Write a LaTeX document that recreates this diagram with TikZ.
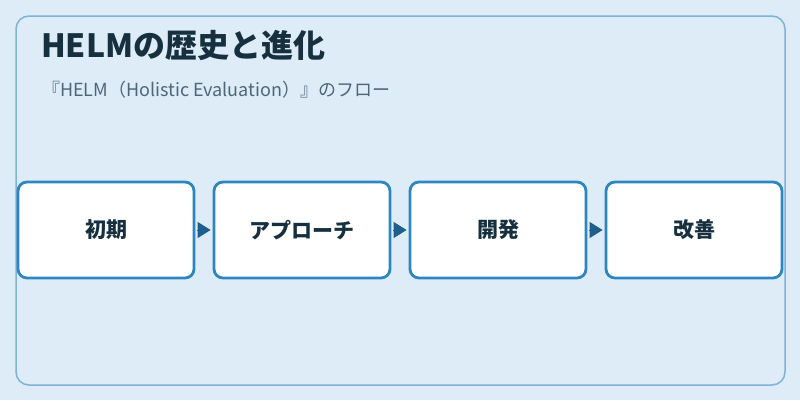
\documentclass[tikz,border=0pt]{standalone}
\usepackage{fontspec}
\setmainfont{Noto Sans CJK JP}
\usepackage{tikz}
\usetikzlibrary{arrows.meta}

\definecolor{pagebg}{HTML}{DDECF7}
\definecolor{framecol}{HTML}{7DB3D7}
\definecolor{boxcol}{HTML}{2E86C1}
\definecolor{arrowcol}{HTML}{1F5F8C}
\definecolor{titlecol}{HTML}{17303F}
\definecolor{subcol}{HTML}{4D6678}

\begin{document}
\begin{tikzpicture}[x=1pt,y=-1pt,
    stagebox/.style={draw=boxcol,line width=2.8pt,fill=white,rounded corners=9pt,
      minimum width=176pt,minimum height=96pt,font=\fontsize{21pt}{24pt}\selectfont\bfseries,text=titlecol},
    flow/.style={arrowcol,line width=1pt,shorten <=2pt,shorten >=2pt,
      -{Triangle[length=13pt,width=16pt]}}]

        \useasboundingbox (0,0) rectangle (800,400);
        \fill[pagebg] (0,0) rectangle (800,400);
        \draw[framecol,line width=1.5pt,rounded corners=13pt] (16,16) rectangle (785,385);

        \node[anchor=base west,text=titlecol,font=\fontsize{32pt}{36pt}\selectfont\bfseries,inner sep=0pt]
          (title) at (41,57) {HELMの歴史と進化};
        \node[anchor=base west,text=subcol,font=\fontsize{18pt}{21pt}\selectfont,inner sep=0pt]
          (subtitle) at (42,96) {『HELM（Holistic Evaluation）』のフロー};

        \node[stagebox] (init) at (106,230) {初期};
        \node[stagebox] (appr) at (302,230) {アプローチ};
        \node[stagebox] (dev)  at (498,230) {開発};
        \node[stagebox] (impr) at (694,230) {改善};

        \draw[flow] (init) -- (appr);
        \draw[flow] (appr) -- (dev);
        \draw[flow] (dev) -- (impr);
      \end{tikzpicture}
\end{document}
